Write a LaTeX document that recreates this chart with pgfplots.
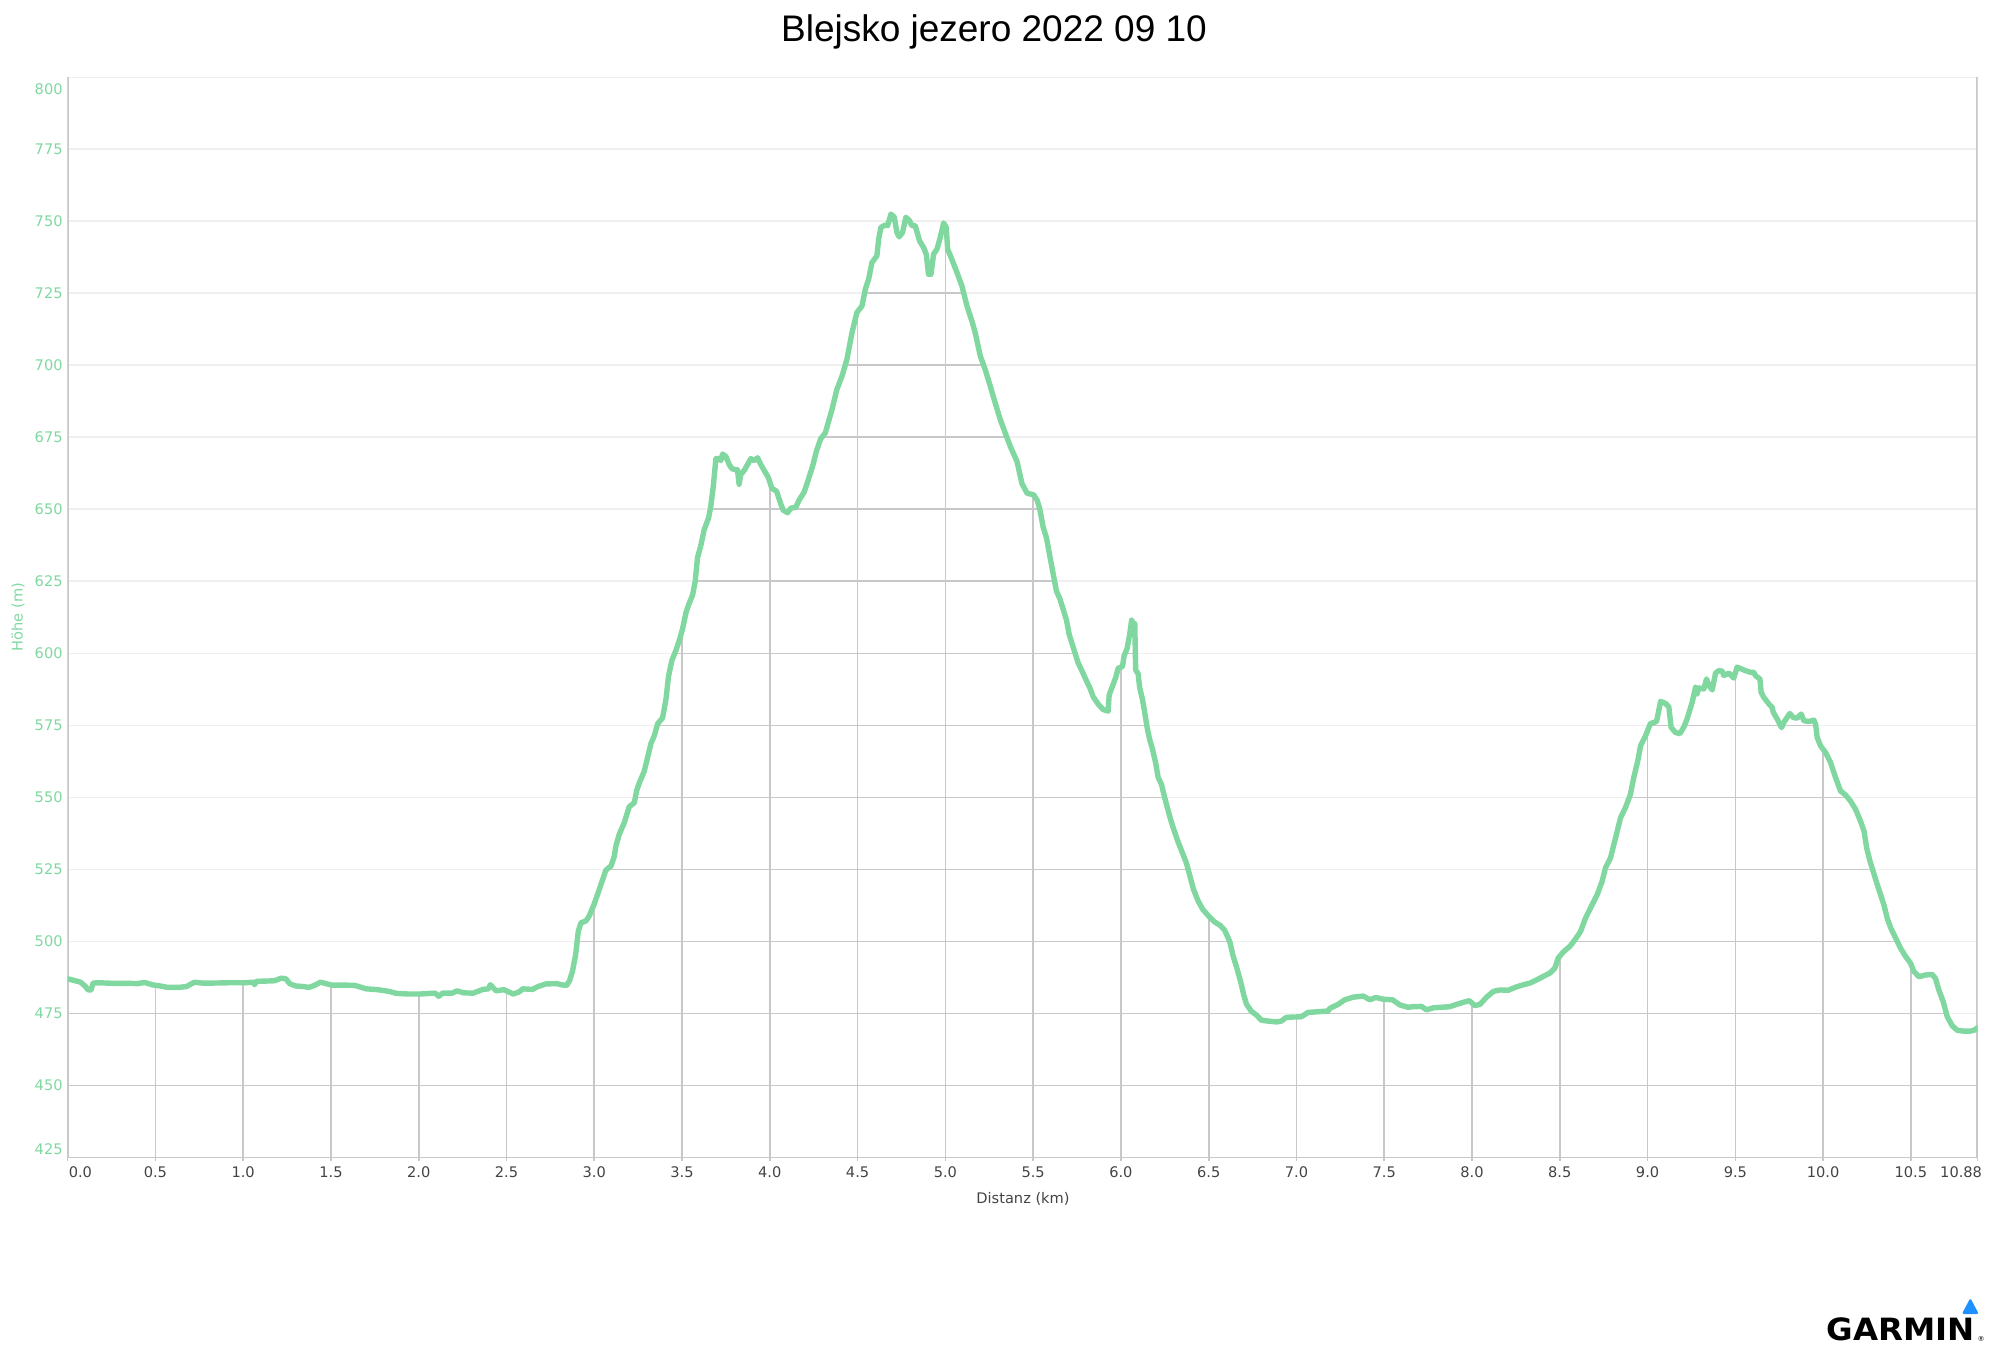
\documentclass[border=0pt]{standalone}
\usepackage{pgfplots}
\usepackage{pgfplotstable}
\pgfplotsset{compat=1.18}
\usetikzlibrary{calc}
\usepackage{fontspec}
\setmainfont{DejaVu Sans}
\newfontfamily\titlefont{Liberation Sans}
\newfontfamily\logofont{DejaVu Sans}

\definecolor{elev}{RGB}{128,216,160}
\definecolor{gridgray}{RGB}{200,200,200}
\definecolor{faintgray}{RGB}{240,240,240}
\definecolor{labelgray}{RGB}{68,68,68}
\definecolor{garminblue}{RGB}{30,144,255}

% elevation profile, km vs m
\pgfplotstableread{
km m
0.000 487.0
0.044 486.3
0.074 485.8
0.102 484.3
0.117 483.1
0.134 483.1
0.145 485.5
0.178 485.6
0.265 485.4
0.352 485.4
0.396 485.3
0.439 485.7
0.483 484.9
0.526 484.5
0.570 484.0
0.635 484.0
0.678 484.3
0.722 485.8
0.765 485.5
0.831 485.5
0.918 485.6
1.004 485.6
1.059 485.8
1.065 484.9
1.074 486.1
1.135 486.2
1.178 486.3
1.217 487.2
1.243 487.0
1.265 485.3
1.298 484.5
1.342 484.3
1.374 484.0
1.407 484.7
1.440 485.8
1.473 485.3
1.505 484.8
1.571 484.8
1.636 484.7
1.701 483.5
1.767 483.2
1.832 482.6
1.875 481.9
1.941 481.7
2.006 481.7
2.093 482.0
2.114 480.9
2.136 482.0
2.191 482.0
2.219 482.8
2.256 482.1
2.311 482.0
2.365 483.3
2.397 483.5
2.408 484.9
2.441 482.8
2.485 483.2
2.539 481.7
2.571 482.4
2.593 483.5
2.648 483.3
2.680 484.3
2.724 485.2
2.789 485.3
2.811 484.9
2.843 484.7
2.859 486.3
2.876 489.6
2.894 495.4
2.909 503.5
2.924 506.4
2.953 507.1
2.972 508.9
3.000 513.0
3.028 517.9
3.047 521.3
3.066 524.7
3.095 526.1
3.114 529.5
3.123 533.0
3.142 537.1
3.171 541.2
3.199 546.7
3.228 548.1
3.241 552.2
3.256 554.9
3.285 559.1
3.304 563.9
3.323 568.7
3.342 571.4
3.361 575.5
3.389 577.6
3.408 583.8
3.423 592.0
3.442 597.5
3.465 601.0
3.484 604.4
3.503 608.5
3.522 614.0
3.537 616.8
3.560 620.2
3.575 625.0
3.588 633.2
3.607 637.4
3.626 642.9
3.651 647.0
3.664 651.1
3.678 658.0
3.693 667.6
3.712 667.6
3.721 666.9
3.731 669.2
3.750 668.3
3.769 665.5
3.784 664.1
3.807 663.7
3.816 663.7
3.825 658.7
3.835 662.1
3.854 663.5
3.873 665.5
3.892 667.6
3.911 666.9
3.930 667.9
3.949 665.5
3.968 663.5
3.992 661.0
4.011 657.3
4.038 656.3
4.063 651.8
4.076 649.7
4.101 648.8
4.120 650.4
4.148 650.7
4.167 653.2
4.195 655.9
4.214 659.3
4.243 664.8
4.266 670.3
4.290 674.5
4.316 676.5
4.354 684.6
4.382 691.6
4.411 696.2
4.439 702.0
4.468 711.3
4.496 718.3
4.525 720.6
4.544 726.4
4.563 729.9
4.582 735.7
4.610 738.0
4.620 743.8
4.633 747.9
4.658 748.7
4.671 748.5
4.690 752.5
4.709 751.4
4.724 746.1
4.737 744.6
4.756 746.1
4.775 751.4
4.796 750.2
4.809 748.5
4.828 748.5
4.853 743.2
4.876 740.9
4.891 738.6
4.904 731.6
4.918 731.6
4.933 738.6
4.952 740.3
4.971 744.4
4.990 749.4
5.005 747.9
5.013 740.3
5.037 736.8
5.066 732.2
5.094 727.6
5.123 720.6
5.151 715.4
5.170 711.3
5.199 703.2
5.227 698.5
5.256 692.7
5.284 686.9
5.313 681.1
5.341 676.5
5.370 671.8
5.408 666.6
5.436 659.0
5.465 655.6
5.504 655.0
5.523 653.1
5.538 650.0
5.557 643.8
5.576 640.1
5.591 635.1
5.610 628.9
5.633 621.5
5.652 619.0
5.671 615.3
5.690 611.5
5.705 606.6
5.724 602.9
5.737 600.4
5.756 596.7
5.781 593.5
5.804 590.4
5.823 588.0
5.842 584.9
5.870 582.4
5.898 580.5
5.927 579.9
5.933 585.5
5.952 588.6
5.971 591.7
5.984 594.8
6.009 595.4
6.018 599.1
6.035 601.6
6.050 606.6
6.061 611.5
6.069 610.3
6.079 610.3
6.084 594.2
6.098 592.9
6.107 588.0
6.122 584.2
6.136 579.3
6.149 574.3
6.164 570.0
6.179 566.9
6.198 561.9
6.212 556.9
6.231 554.5
6.246 550.7
6.262 547.0
6.281 542.7
6.300 539.0
6.325 534.6
6.349 530.9
6.373 527.2
6.395 522.2
6.414 517.9
6.439 514.1
6.467 511.0
6.502 508.6
6.534 506.7
6.566 505.5
6.591 503.8
6.620 499.9
6.639 494.9
6.658 491.2
6.681 486.2
6.700 481.3
6.715 478.2
6.743 475.7
6.772 474.4
6.800 472.6
6.838 472.3
6.886 472.0
6.914 472.3
6.943 473.6
6.981 473.7
7.028 473.8
7.066 475.3
7.133 475.6
7.180 475.8
7.190 476.7
7.237 478.1
7.275 479.7
7.323 480.6
7.380 481.0
7.418 479.7
7.452 480.5
7.494 479.9
7.547 479.7
7.589 477.9
7.636 477.1
7.665 477.3
7.712 477.4
7.741 476.2
7.779 476.9
7.826 477.1
7.874 477.3
7.912 478.1
7.950 478.8
7.984 479.4
8.016 477.7
8.045 478.1
8.083 480.6
8.121 482.6
8.159 483.1
8.206 483.0
8.254 484.2
8.292 484.9
8.330 485.5
8.368 486.6
8.406 487.8
8.444 489.0
8.472 490.7
8.491 494.2
8.520 496.3
8.558 498.3
8.587 500.6
8.618 503.4
8.646 508.0
8.684 512.7
8.713 516.2
8.741 520.8
8.760 525.5
8.789 529.0
8.808 533.6
8.827 538.2
8.846 542.9
8.874 546.4
8.902 551.0
8.921 556.8
8.944 562.6
8.960 567.9
8.988 571.3
9.016 575.6
9.051 576.3
9.074 583.3
9.102 582.6
9.121 581.4
9.134 574.3
9.159 572.5
9.184 572.1
9.206 574.3
9.225 577.2
9.254 583.0
9.273 588.2
9.282 585.9
9.292 588.0
9.320 587.6
9.336 591.1
9.349 588.8
9.368 587.3
9.387 593.1
9.406 594.0
9.425 593.8
9.434 592.3
9.463 593.1
9.491 591.4
9.510 595.2
9.548 594.2
9.586 593.4
9.605 593.4
9.615 592.2
9.640 591.1
9.647 586.4
9.662 584.7
9.691 582.4
9.710 581.2
9.716 579.5
9.738 577.2
9.763 574.2
9.776 576.0
9.810 579.1
9.830 577.7
9.852 577.5
9.875 578.9
9.890 576.6
9.919 576.3
9.947 576.8
9.957 575.4
9.966 570.8
9.985 567.9
10.014 565.5
10.042 562.1
10.071 556.8
10.099 552.2
10.128 550.8
10.156 548.7
10.185 545.8
10.213 541.7
10.233 538.2
10.248 532.4
10.267 527.8
10.285 524.3
10.308 519.7
10.327 516.2
10.346 512.7
10.365 508.0
10.384 504.8
10.413 501.1
10.441 497.6
10.470 494.7
10.498 492.4
10.517 489.5
10.546 487.7
10.583 488.3
10.621 488.5
10.640 487.1
10.659 483.1
10.684 479.0
10.707 473.8
10.735 470.7
10.764 469.1
10.802 468.8
10.836 468.8
10.859 469.1
10.880 470.0
}\elevdata

\begin{document}
\begin{tikzpicture}[x=1pt,y=1pt]
\begin{axis}[
  at={(33.8pt,94.35pt)}, anchor=south west,
  scale only axis, width=955pt, height=540pt,
  xmin=0, xmax=10.88, ymin=425, ymax=800,
  axis line style={draw=none},
  xtick={0,0.5,1,1.5,2,2.5,3,3.5,4,4.5,5,5.5,6,6.5,7,7.5,8,8.5,9,9.5,10,10.5,10.88},
  xticklabels={\hspace*{12.8pt}0.0,0.5,1.0,1.5,2.0,2.5,3.0,3.5,4.0,4.5,5.0,5.5,6.0,6.5,7.0,7.5,8.0,8.5,9.0,9.5,10.0,10.5,10.88\hspace*{16.5pt}},
  ytick={425,450,475,500,525,550,575,600,625,650,675,700,725,750,775},
  yticklabels={\raisebox{4pt}[\height][\depth]{425},450,475,500,525,550,575,600,625,650,675,700,725,750,775},
  extra y ticks={800},
  extra y tick labels={\raisebox{-5.8pt}[\height][\depth]{800}},
  extra y tick style={grid=none},
  xtick pos=bottom, ytick pos=left,
  xtick align=outside, major tick length=1.8pt,
  xtick style={gridgray, line width=0.8pt},
  ytick style={draw=none},
  grid=major,
  major grid style={gridgray, line width=0.8pt},
  ticklabel style={font=\fontsize{7.3}{8}\selectfont, inner sep=0pt},
  xticklabel style={labelgray, anchor=north, yshift=-2.9pt},
  yticklabel style={elev, anchor=east, xshift=-2.3pt},
]
% blank out the dark grid above the profile
\addplot[draw=none, fill=white] table[x=km, y=m] {\elevdata}
  -- (rel axis cs:1,1) -- (rel axis cs:0,1) -- cycle;
% faint horizontal lines above the profile
\begin{scope}[blend mode=darken]
\pgfplotsinvokeforeach{450,475,...,800}{
  \draw[faintgray, line width=0.8pt] (axis cs:0,#1) -- (axis cs:10.88,#1);
}
\end{scope}
\draw[gridgray, line width=1.5pt] (rel axis cs:0,0) -- (rel axis cs:0,1);
\draw[gridgray, line width=1.2pt] (rel axis cs:1,0) -- (rel axis cs:1,1);
\draw[gridgray, line width=2pt] ([yshift=-0.6pt]rel axis cs:0,0) -- ([yshift=-0.6pt]rel axis cs:1,0);
\addplot[elev, line width=2.7pt, line join=round, line cap=round] table[x=km, y=m] {\elevdata};
\end{axis}

\node[anchor=base, inner sep=0pt, font=\titlefont\fontsize{18.5}{22}\selectfont] at (497,652.15) {Blejsko jezero 2022 09 10};
\node[anchor=base, inner sep=0pt, text=labelgray, font=\fontsize{7.3}{8}\selectfont] at (511.5,71.35) {Distanz (km)};
\node[rotate=90, inner sep=0pt, text=elev, font=\fontsize{7.3}{8}\selectfont] at (9,364.5) {Höhe (m)};

% logo
\node[anchor=south west, inner sep=0pt, font=\logofont\bfseries\fontsize{16.5}{18}\selectfont] (g) at (913,2.2) {\resizebox*{74pt}{11.6pt}{GARMIN}};
\node[anchor=base west, inner sep=0pt, font=\fontsize{3.5}{4}\selectfont] at ($(g.south east)+(1.2,0.2)$) {®};
\fill[garminblue, rounded corners=0.8pt] ($(g.south east)+(-6.5,13.8)$) -- ($(g.south east)+(2,13.8)$) -- ($(g.south east)+(-2.25,21.8)$) -- cycle;

\pgfresetboundingbox
\path[use as bounding box] (0,0) rectangle (1000,673);
\end{tikzpicture}
\end{document}
